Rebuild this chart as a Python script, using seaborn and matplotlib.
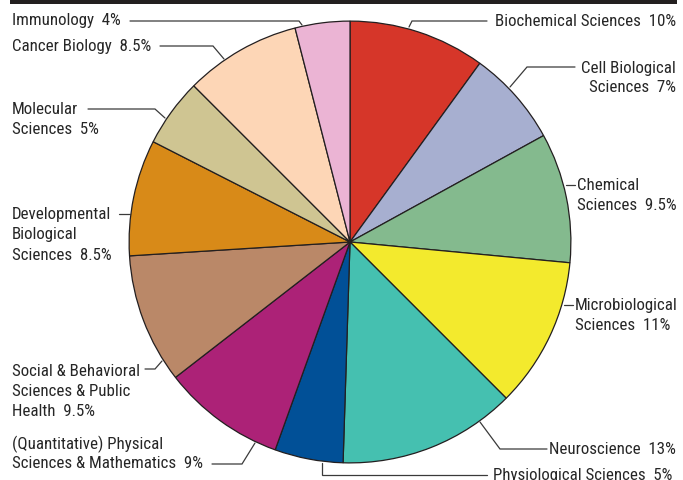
import matplotlib
matplotlib.use("Agg")
import matplotlib.pyplot as plt
import seaborn as sns

# Share of faculty by research area, clockwise from the top
areas = [
    "Biochemical Sciences",
    "Cell Biological\nSciences",
    "Chemical\nSciences",
    "Microbiological\nSciences",
    "Neuroscience",
    "Physiological Sciences",
    "(Quantitative) Physical\nSciences & Mathematics",
    "Social & Behavioral\nSciences & Public\nHealth",
    "Developmental\nBiological\nSciences",
    "Molecular\nSciences",
    "Cancer Biology",
    "Immunology",
]
shares = [10, 7, 9.5, 11, 13, 5, 9, 9.5, 8.5, 5, 8.5, 4]
colors = [
    "#d63629", "#a7afd0", "#84ba8e", "#f3ea2d", "#45c0b0", "#015097",
    "#ac2277", "#ba8868", "#d88a18", "#cfc592", "#fdd6b6", "#ebb4d4",
]

# Label placement (pixel space): anchor x, first-line centre y, alignment,
# and the leader polyline running from the text to the pie rim
label_layout = [
    (676, 21, "right", [(487, 22), (412, 22), (409, 28)]),
    (676, 68, "right", [(575, 68), (527, 68), (510, 88)]),
    (577, 186, "left", [(575, 186), (566, 186)]),
    (575, 306, "left", [(573, 306), (564, 306)]),
    (676, 450, "right", [(547, 450), (500, 450), (480, 423)]),
    (493, 476, "left", [(487, 476), (322, 476), (322, 464)]),
    (12, 444, "left", [(212, 465), (242, 465), (255, 444)]),
    (12, 372, "left", [(145, 370), (155, 370), (162, 362)]),
    (12, 215, "left", [(119, 215), (130, 215)]),
    (12, 110, "left", [(88, 110), (155, 110), (165, 119)]),
    (12, 47, "left", [(160, 47), (213, 47), (224, 60)]),
    (12, 21, "left", [(130, 22), (299, 22), (302, 26)]),
]

W, H = 683, 481
sns.set_theme(style="white")
plt.rcParams["font.family"] = ["Roboto Condensed", "Liberation Sans Narrow",
                               "Roboto", "DejaVu Sans"]

fig = plt.figure(figsize=(W / 100, H / 100), dpi=100)
fig.patch.set_facecolor("white")

# Pie axes: centre (350, 243), radius 222 px
cx, cy, r = 350, 243, 222
ax = fig.add_axes([(cx - r) / W, (H - cy - r) / H, 2 * r / W, 2 * r / H])
ax.pie(
    shares,
    colors=colors,
    startangle=90,
    counterclock=False,
    radius=1,
    wedgeprops=dict(edgecolor="#231f20", linewidth=0.9),
)
ax.set_xlim(-1.005, 1.005)
ax.set_ylim(-1.005, 1.005)
ax.set_aspect("equal")
ax.axis("off")

# Overlay axes in pixel coordinates for the header bar, labels and leaders
ov = fig.add_axes([0, 0, 1, 1], facecolor="none")
ov.set_xlim(0, W)
ov.set_ylim(H, 0)
ov.axis("off")

ov.fill_between([10, 677], 0, 5, color="#231f20", lw=0)

text_color = "#262626"
line_step = 20
for name, share, (tx, ty, ha, leader) in zip(areas, shares, label_layout):
    label = f"{name}  {share:g}%"
    for i, line in enumerate(label.split("\n")):
        ov.text(tx, ty + i * line_step, line, ha=ha, va="center",
                fontsize=12.2, fontstretch="condensed", color=text_color)
    xs, ys = zip(*leader)
    ov.plot(xs, ys, color="#3a3a3a", lw=0.9, solid_joinstyle="miter")

fig.savefig("out.png", dpi=100)
